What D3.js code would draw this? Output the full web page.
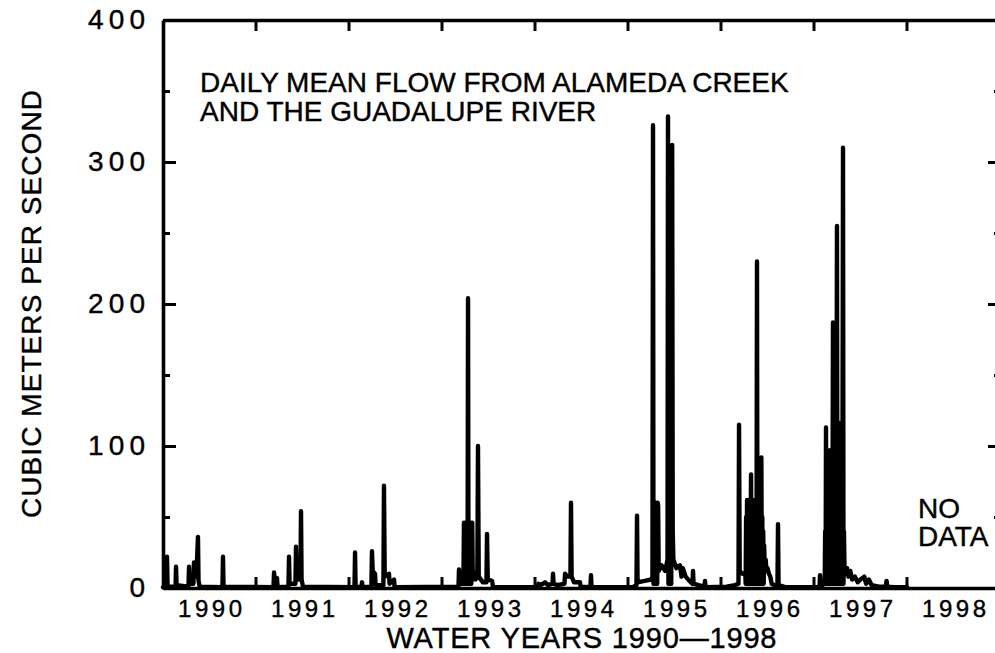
<!DOCTYPE html>
<html>
<head>
<meta charset="utf-8">
<script src="https://cdn.jsdelivr.net/npm/d3@7"></script>
<style>
  body { margin: 0; background: #fff; }
  svg text { font-family: "Liberation Sans", Arial, sans-serif; fill: #000; stroke: #000; stroke-width: 0.4px; }
</style>
</head>
<body>
<div id="chart"></div>
<script>
// Water years along the bottom (each label sits in the middle of its year)
var waterYears = [1990, 1991, 1992, 1993, 1994, 1995, 1996, 1997, 1998];

// Flow axis ticks, cubic meters per second
var flowTicks = [0, 100, 200, 300, 400];
var flowMinorTicks = [50, 150, 250, 350];

var titleLines = ["DAILY MEAN FLOW FROM ALAMEDA CREEK", "AND THE GUADALUPE RIVER"];
var noDataLines = ["NO", "DATA"];
var xTitle = "WATER YEARS 1990\u20141998";
var yTitle = "CUBIC METERS PER SECOND";

// Daily mean flow: [water year position, flow]
// (1990.0 = 1 Oct 1989, start of water year 1990)
var flowSeries = [
  [1990.000, 0.5],
  [1990.038, 1], [1990.043, 22], [1990.049, 2], [1990.060, 1],
  [1990.135, 1], [1990.140, 15], [1990.146, 2],
  [1990.274, 1], [1990.280, 15], [1990.286, 3],
  [1990.327, 3], [1990.333, 18], [1990.345, 8], [1990.360, 10], [1990.376, 36], [1990.382, 5], [1990.395, 1],
  [1990.639, 0.5], [1990.645, 22], [1990.651, 1],
  [1991.188, 0.5], [1991.194, 11], [1991.200, 4], [1991.226, 7], [1991.232, 0.5],
  [1991.349, 1], [1991.355, 22], [1991.361, 3],
  [1991.424, 3], [1991.430, 29], [1991.436, 8], [1991.460, 6], [1991.478, 8], [1991.484, 54], [1991.490, 6], [1991.505, 1],
  [1992.059, 0.5], [1992.065, 25], [1992.071, 1], [1992.134, 0.5], [1992.140, 4], [1992.146, 0.5],
  [1992.241, 1], [1992.247, 26], [1992.255, 12], [1992.280, 10], [1992.286, 2],
  [1992.370, 2], [1992.376, 72], [1992.384, 8], [1992.430, 10], [1992.436, 3], [1992.484, 6], [1992.490, 0.5],
  [1993.177, 1], [1993.183, 13], [1993.189, 3],
  [1993.230, 3], [1993.236, 46], [1993.241, 3], [1993.246, 44], [1993.251, 3], [1993.256, 46], [1993.261, 3],
  [1993.266, 42], [1993.271, 3], [1993.276, 46], [1993.280, 204], [1993.285, 3], [1993.290, 46], [1993.295, 3],
  [1993.300, 44], [1993.305, 3], [1993.310, 46], [1993.315, 3], [1993.320, 44], [1993.325, 46], [1993.331, 6],
  [1993.344, 11], [1993.360, 6], [1993.380, 8], [1993.387, 100], [1993.395, 8], [1993.440, 4], [1993.478, 4],
  [1993.484, 38], [1993.492, 6], [1993.538, 5], [1993.550, 0.5],
  [1994.030, 0.5], [1994.036, 3], [1994.060, 2], [1994.108, 4], [1994.140, 2], [1994.188, 3], [1994.194, 10], [1994.200, 3], [1994.240, 2],
  [1994.317, 3], [1994.323, 10], [1994.350, 8], [1994.381, 8], [1994.387, 60], [1994.394, 8], [1994.420, 4],
  [1994.484, 4], [1994.490, 1], [1994.596, 0.5], [1994.602, 9], [1994.608, 0.5],
  [1995.050, 0.5], [1995.091, 2], [1995.097, 51], [1995.103, 4], [1995.180, 5], [1995.250, 6],
  [1995.263, 8], [1995.269, 326], [1995.274, 3], [1995.279, 60], [1995.284, 3], [1995.289, 58], [1995.294, 3],
  [1995.299, 60], [1995.304, 3], [1995.309, 55], [1995.314, 3], [1995.319, 60], [1995.324, 58], [1995.330, 12],
  [1995.360, 16], [1995.400, 12],
  [1995.425, 20], [1995.430, 332], [1995.435, 3], [1995.440, 310], [1995.445, 3], [1995.450, 300], [1995.455, 3],
  [1995.460, 305], [1995.465, 3], [1995.470, 300], [1995.475, 312], [1995.481, 40], [1995.488, 20], [1995.520, 14],
  [1995.559, 16], [1995.575, 8], [1995.590, 14], [1995.620, 8], [1995.660, 5], [1995.694, 3], [1995.699, 12],
  [1995.705, 3], [1995.760, 2], [1995.822, 1], [1995.828, 5], [1995.834, 0.5],
  [1996.060, 1], [1996.150, 2], [1996.188, 3], [1996.194, 115], [1996.201, 12], [1996.230, 10], [1996.262, 10],
  [1996.265, 3], [1996.270, 50], [1996.275, 3], [1996.280, 62], [1996.285, 3], [1996.290, 58], [1996.295, 3],
  [1996.300, 62], [1996.305, 3], [1996.310, 60], [1996.315, 3], [1996.323, 80], [1996.328, 3], [1996.333, 60],
  [1996.338, 3], [1996.343, 62], [1996.348, 3], [1996.353, 58], [1996.358, 3], [1996.363, 60], [1996.368, 3],
  [1996.373, 62], [1996.378, 3], [1996.383, 65], [1996.387, 230], [1996.392, 3], [1996.397, 65], [1996.402, 3],
  [1996.407, 68], [1996.412, 3], [1996.417, 65], [1996.422, 3], [1996.427, 70], [1996.434, 92], [1996.439, 3],
  [1996.444, 50], [1996.449, 3], [1996.454, 40], [1996.459, 3], [1996.464, 30], [1996.470, 15], [1996.480, 20],
  [1996.490, 12], [1996.500, 14], [1996.515, 10], [1996.530, 8], [1996.545, 3], [1996.600, 1],
  [1996.607, 2], [1996.613, 45], [1996.619, 2], [1996.700, 0.5],
  [1997.059, 0.5], [1997.065, 9], [1997.071, 0.5], [1997.110, 3],
  [1997.115, 3], [1997.120, 40], [1997.125, 3], [1997.129, 113], [1997.134, 3], [1997.139, 56], [1997.144, 3],
  [1997.149, 55], [1997.154, 3], [1997.159, 56], [1997.164, 3], [1997.172, 97], [1997.177, 3], [1997.182, 56],
  [1997.187, 3], [1997.192, 60], [1997.197, 3], [1997.204, 187], [1997.209, 3], [1997.214, 116], [1997.219, 3],
  [1997.224, 116], [1997.229, 3], [1997.234, 116], [1997.239, 3], [1997.243, 120], [1997.247, 255], [1997.252, 3],
  [1997.257, 116], [1997.262, 3], [1997.267, 116], [1997.272, 3], [1997.277, 116], [1997.282, 3], [1997.287, 116],
  [1997.292, 3], [1997.297, 116], [1997.302, 3], [1997.307, 116], [1997.312, 310], [1997.317, 3], [1997.322, 40],
  [1997.328, 14], [1997.340, 10], [1997.355, 14], [1997.370, 8], [1997.390, 12], [1997.410, 6], [1997.440, 8],
  [1997.470, 4], [1997.500, 6], [1997.540, 8], [1997.560, 3], [1997.590, 6], [1997.620, 2], [1997.700, 1],
  [1997.772, 1], [1997.780, 5], [1997.788, 1], [1997.860, 0.5], [1998.000, 0.5]
];

var width = 995;
var height = 653;

// plot box; the right frame sits just past the window edge
var plotLeft = 163;
var plotRight = 1000;
var plotTop = 20;
var plotBottom = 588;
var yearTickLength = 11;

var svg = d3.select("#chart")
  .append("svg")
  .attr("width", width)
  .attr("height", height);

var x = d3.scaleLinear()
  .domain([waterYears[0], waterYears[waterYears.length - 1] + 1])
  .range([plotLeft, plotRight]);

var y = d3.scaleLinear()
  .domain([0, 400])
  .range([plotBottom, plotTop]);

// year boundaries (1 October) get the inward ticks
var yearStarts = waterYears.slice(1);

function styleAxis(g) {
  g.attr("font-family", null).attr("font-size", null);
  g.select(".domain").attr("stroke-width", 3.6);
  g.selectAll(".tick line").attr("stroke-width", 3);
}

// bottom and top frame lines
svg.append("g")
  .attr("transform", "translate(0," + plotBottom + ")")
  .call(d3.axisBottom(x).tickValues([]).tickSizeOuter(0))
  .call(styleAxis);

svg.append("g")
  .attr("transform", "translate(0," + plotTop + ")")
  .call(d3.axisTop(x).tickValues([]).tickSizeOuter(0))
  .call(styleAxis);

// inward year ticks on the top and bottom frames
var frameTicks = svg.append("g").attr("class", "year-ticks");
frameTicks.selectAll("line.bottom")
  .data(yearStarts)
  .enter()
  .append("line")
  .attr("class", "bottom")
  .attr("x1", function(d) { return x(d); })
  .attr("x2", function(d) { return x(d); })
  .attr("y1", plotBottom)
  .attr("y2", plotBottom - yearTickLength)
  .attr("stroke", "#000")
  .attr("stroke-width", 3);

frameTicks.selectAll("line.top")
  .data(yearStarts)
  .enter()
  .append("line")
  .attr("class", "top")
  .attr("x1", function(d) { return x(d); })
  .attr("x2", function(d) { return x(d); })
  .attr("y1", plotTop)
  .attr("y2", plotTop + yearTickLength)
  .attr("stroke", "#000")
  .attr("stroke-width", 3);

// year labels centred in each water year
var yearLabels = svg.append("g")
  .attr("transform", "translate(0," + plotBottom + ")")
  .call(d3.axisBottom(x)
    .tickValues(waterYears.map(function(d) { return d + 0.5; }))
    .tickSize(0).tickPadding(12)
    .tickFormat(function(d) { return Math.floor(d); }));
yearLabels.attr("font-family", null);
yearLabels.select(".domain").remove();
yearLabels.selectAll("text")
  .style("font-size", "24px")
  .attr("textLength", 64)
  .attr("lengthAdjust", "spacing");

// left frame, labelled
var leftAxis = svg.append("g")
  .attr("transform", "translate(" + plotLeft + ",0)")
  .call(d3.axisLeft(y).tickValues(flowTicks).tickSize(-13).tickSizeOuter(0).tickPadding(18))
  .call(styleAxis);
leftAxis.selectAll("text")
  .style("font-size", "28px")
  .each(function(d) {
    if (d >= 100) d3.select(this).attr("textLength", 57).attr("lengthAdjust", "spacing");
  });

svg.append("g")
  .attr("transform", "translate(" + plotLeft + ",0)")
  .call(d3.axisLeft(y).tickValues(flowMinorTicks).tickSize(-7).tickSizeOuter(0).tickFormat(""))
  .call(styleAxis)
  .select(".domain").remove();

// right frame, ticks only
svg.append("g")
  .attr("transform", "translate(" + plotRight + ",0)")
  .call(d3.axisRight(y).tickValues(flowTicks).tickSize(-12).tickSizeOuter(0).tickFormat(""))
  .call(styleAxis);

svg.append("g")
  .attr("transform", "translate(" + plotRight + ",0)")
  .call(d3.axisRight(y).tickValues(flowMinorTicks).tickSize(-6).tickSizeOuter(0).tickFormat(""))
  .call(styleAxis)
  .select(".domain").remove();

// the hydrograph
var flowLine = d3.line()
  .x(function(d) { return x(d[0]); })
  .y(function(d) { return y(d[1]); });

svg.append("path")
  .datum(flowSeries)
  .attr("d", flowLine)
  .attr("fill", "none")
  .attr("stroke", "#000")
  .attr("stroke-width", 4.4)
  .attr("stroke-linejoin", "round")
  .attr("stroke-linecap", "round");

// title inside the plot
svg.append("g")
  .selectAll("text")
  .data(titleLines)
  .enter()
  .append("text")
  .attr("x", 200)
  .attr("y", function(d, i) { return 92 + i * 29; })
  .style("font-size", "28px")
  .text(function(d) { return d; });

// no data note for 1998
svg.append("g")
  .selectAll("text")
  .data(noDataLines)
  .enter()
  .append("text")
  .attr("x", 918)
  .attr("y", function(d, i) { return 518 + i * 28; })
  .style("font-size", "28px")
  .text(function(d) { return d; });

// axis titles
svg.append("text")
  .attr("x", (plotLeft + plotRight) / 2)
  .attr("y", 648)
  .attr("text-anchor", "middle")
  .attr("textLength", 390)
  .attr("lengthAdjust", "spacing")
  .style("font-size", "29px")
  .text(xTitle);

svg.append("text")
  .attr("transform", "translate(41," + (plotTop + plotBottom) / 2 + ") rotate(-90)")
  .attr("text-anchor", "middle")
  .attr("textLength", 428)
  .attr("lengthAdjust", "spacing")
  .style("font-size", "28px")
  .text(yTitle);
</script>
</body>
</html>
